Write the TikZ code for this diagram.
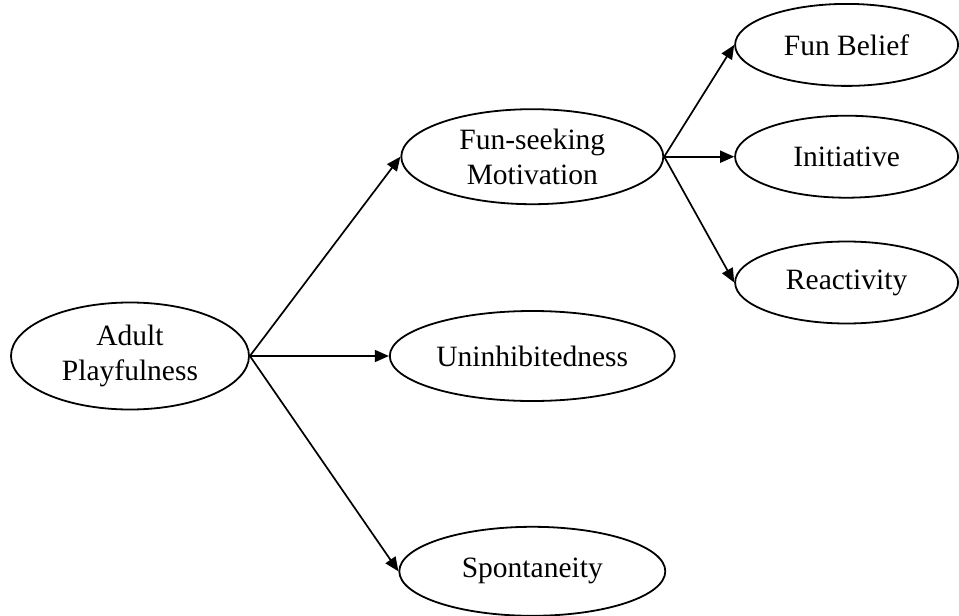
\documentclass[tikz,border=0pt]{standalone}
\usepackage{fontspec}
\setmainfont{Liberation Serif}
\usepackage{tikz}
\usetikzlibrary{arrows.meta,positioning,shapes.geometric}
\tikzset{construct/.style={
    % The shape:
    ellipse,
    inner sep=0pt,
    % The border:
    line width=1.8pt,
    draw=black,
    % Font
    align=center,
    font=\fontsize{29.5}{35}\selectfont
    },
    facet/.style={
    construct,
    minimum width=223pt,
    minimum height=82pt,
    },
    link/.style={
    line width=1.7pt,
    -{Triangle[length=14pt,width=12pt]},
    },
}

\begin{document}
\begin{tikzpicture}[node distance = 0mm and 5mm]
    \useasboundingbox (0pt,0pt) rectangle (959pt,-616pt);
    \node (adult)   [construct,minimum width=238pt,minimum height=107pt] at (130pt,-356pt) {Adult\\Playfulness};
    \node (uninhib) [construct,minimum width=285pt,minimum height=90pt,right=139pt of adult] {Uninhibitedness};
    \node (funseek) [construct,minimum width=262pt,minimum height=95pt,above=105pt of uninhib] {Fun-seeking\\Motivation};
    \node (spont)   [construct,minimum width=266pt,minimum height=89pt,below=124pt of uninhib] {Spontaneity};

    \node (init)    [facet,right=70pt of funseek]   {Initiative};
    \node (belief)  [facet,above=28pt of init]      {Fun Belief};
    \node (react)   [facet,below=42pt of init]      {Reactivity};

    \draw[link] (adult.east) -- (funseek.west);
    \draw[link] (adult.east) -- (uninhib.west);
    \draw[link] (adult.east) -- (spont.west);
    \draw[link] (funseek.east) -- (belief.west);
    \draw[link] (funseek.east) -- (init.west);
    \draw[link] (funseek.east) -- (react.west);
\end{tikzpicture}
\end{document}
